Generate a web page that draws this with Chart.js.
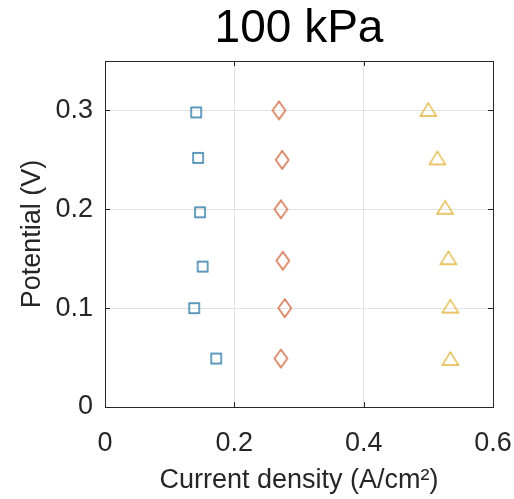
<!DOCTYPE html>
<html lang="en">
<head>
<meta charset="UTF-8">
<title>100 kPa</title>
<script src="https://cdn.jsdelivr.net/npm/chart.js"></script>
<style>
  html, body { margin: 0; padding: 0; background: #fff; }
  #wrap { width: 514px; height: 499px; }
</style>
</head>
<body>
<div id="wrap"><canvas id="myChart" width="514" height="499"></canvas></div>
<script>
// data
const squareX   = [0.141, 0.144, 0.147, 0.151, 0.138, 0.172];
const squareY   = [0.298, 0.252, 0.197, 0.142, 0.100, 0.049];
const diamondX  = [0.269, 0.274, 0.272, 0.275, 0.278, 0.272];
const diamondY  = [0.300, 0.250, 0.200, 0.148, 0.100, 0.049];
const triangleX = [0.500, 0.514, 0.526, 0.531, 0.534, 0.534];
const triangleY = [0.301, 0.252, 0.202, 0.151, 0.102, 0.049];
const xTicks = [0, 0.2, 0.4, 0.6];
const yTicks = [0, 0.1, 0.2, 0.3];

const FONT = "'Liberation Sans', Arial, sans-serif";
const INK = '#262626';

// MATLAB style hollow markers, drawn on small canvases
function marker(shape, color, w, h) {
    const c = document.createElement('canvas');
    c.width = w + 4; c.height = h + 4;
    const g = c.getContext('2d');
    const cx = c.width / 2, cy = c.height / 2;
    g.strokeStyle = color;
    g.lineWidth = 1.4;
    g.beginPath();
    if (shape === 'square') {
        g.rect(cx - w / 2, cy - h / 2, w, h);
    } else if (shape === 'diamond') {
        g.moveTo(cx, cy - h / 2); g.lineTo(cx + w / 2, cy);
        g.lineTo(cx, cy + h / 2); g.lineTo(cx - w / 2, cy);
        g.closePath();
    } else {
        g.moveTo(cx, cy - h / 2); g.lineTo(cx + w / 2, cy + h / 2);
        g.lineTo(cx - w / 2, cy + h / 2);
        g.closePath();
    }
    g.stroke();
    return c;
}

function pts(xs, ys) {
    return xs.map((x, i) => ({ x: x, y: ys[i] }));
}

// box + inward ticks like matlab, and the title centred over the axes
const boxPlugin = {
    id: 'box',
    afterDraw(chart) {
        const { ctx, chartArea: a, scales } = chart;
        ctx.save();
        ctx.strokeStyle = INK;
        ctx.lineWidth = 1;
        ctx.strokeRect(a.left + 0.5, a.top + 0.5, a.right - a.left, a.bottom - a.top);
        ctx.beginPath();
        xTicks.forEach(v => {
            const px = Math.round(scales.x.getPixelForValue(v)) + 0.5;
            ctx.moveTo(px, a.bottom); ctx.lineTo(px, a.bottom - 5);
            ctx.moveTo(px, a.top); ctx.lineTo(px, a.top + 5);
        });
        yTicks.forEach(v => {
            const py = Math.round(scales.y.getPixelForValue(v)) + 0.5;
            ctx.moveTo(a.left, py); ctx.lineTo(a.left + 5, py);
            ctx.moveTo(a.right, py); ctx.lineTo(a.right - 5, py);
        });
        ctx.stroke();

        ctx.fillStyle = '#000';
        ctx.font = '46px ' + FONT;
        ctx.textAlign = 'center';
        ctx.textBaseline = 'alphabetic';
        ctx.fillText('100 kPa', (a.left + a.right) / 2, 42);
        ctx.restore();
    }
};

function noPad(s) {
    s.paddingLeft = 0; s.paddingRight = 0;
    s.paddingTop = 0; s.paddingBottom = 0;
}

const ctx = document.querySelector('#myChart');
const chart = new Chart(ctx, {
    type: 'scatter',
    data: {
        datasets: [{
            data: pts(squareX, squareY),
            pointStyle: marker('square', '#2b78a6', 10, 10)
        }, {
            data: pts(diamondX, diamondY),
            pointStyle: marker('diamond', '#cf6a40', 13, 18)
        }, {
            data: pts(triangleX, triangleY),
            pointStyle: marker('triangle', '#e2b43c', 16, 13)
        }]
    },
    plugins: [boxPlugin],
    options: {
        responsive: false,
        animation: false,
        layout: { padding: { top: 61, right: 21, bottom: 0, left: 0 } },
        plugins: {
            legend: { display: false },
            tooltip: { enabled: false },
            title: { display: false }
        },
        scales: {
            x: {
                type: 'linear',
                min: 0, max: 0.6,
                afterBuildTicks: s => { s.ticks = xTicks.map(v => ({ value: v })); },
                afterFit: s => { s.height = 92; noPad(s); },
                grid: { color: '#e3e3e3', drawTicks: false },
                border: { display: false },
                ticks: {
                    color: INK, padding: 20,
                    font: { family: FONT, size: 27 },
                    callback: v => String(v)
                },
                title: {
                    display: true,
                    text: 'Current density (A/cm²)',
                    color: INK,
                    font: { family: FONT, size: 27 },
                    padding: { top: 0, bottom: 2 }
                }
            },
            y: {
                type: 'linear',
                min: 0, max: 0.35,
                afterBuildTicks: s => { s.ticks = yTicks.map(v => ({ value: v })); },
                afterFit: s => { s.width = 105; noPad(s); },
                grid: { color: '#e3e3e3', drawTicks: false },
                border: { display: false },
                ticks: {
                    color: INK, padding: 12,
                    font: { family: FONT, size: 27 },
                    callback: v => String(v)
                },
                title: {
                    display: true,
                    text: 'Potential (V)',
                    color: INK,
                    font: { family: FONT, size: 27 },
                    padding: { top: 16, bottom: 0 }
                }
            }
        }
    }
});
</script>
</body>
</html>
